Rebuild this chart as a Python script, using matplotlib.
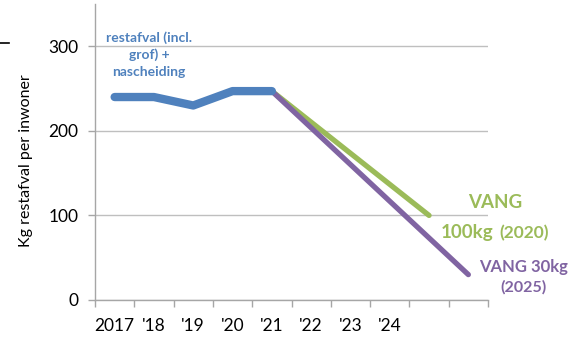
import numpy as np
import matplotlib.pyplot as plt
from matplotlib.lines import Line2D

plt.rcParams['font.family'] = ['Lato', 'DejaVu Sans']

# data
categories = ['2017', "'18", "'19", "'20", "'21", "'22", "'23", "'24", '', '']
actual_idx = [0, 1, 2, 3, 4]
actual = [240, 240, 230, 247, 247]          # restafval (incl. grof) + nascheiding
vang2020_idx = [4, 8]
vang2020 = [247, 100]                        # path to VANG 100kg
vang2025_idx = [4, 9]
vang2025 = [247, 30]                         # path to VANG 30kg

blue = '#4F81BD'
green = '#9BBB59'
purple = '#8064A2'
grid_c = '#BFBFBF'
axis_c = '#A6A6A6'

fig = plt.figure(figsize=(5.79, 3.39), dpi=100)
ax = fig.add_axes([95 / 579, 1 - 300 / 339, (488 - 95) / 579, 296 / 339])

ax.plot(vang2020_idx, vang2020, color=green, lw=3.8, solid_capstyle='round', zorder=3)
ax.plot(vang2025_idx, vang2025, color=purple, lw=3.8, solid_capstyle='round', zorder=4)
ax.plot(actual_idx, actual, color=blue, lw=6, solid_capstyle='round',
        solid_joinstyle='round', zorder=5)

ax.set_xlim(-0.5, len(categories) - 0.5)
ax.set_ylim(0, 350)
ax.set_yticks([0, 100, 200, 300])
ax.set_xticks(range(len(categories)))
ax.set_xticklabels(categories)
ax.set_xticks(np.arange(len(categories) + 1) - 0.5, minor=True)
ax.tick_params(axis='x', which='major', length=0, pad=13, labelsize=12.5, colors='black')
ax.tick_params(axis='x', which='minor', length=5, width=1, color=axis_c)
ax.tick_params(axis='y', length=5, width=1, color=axis_c, pad=7, labelsize=12.5)

ax.grid(axis='y', color=grid_c, lw=1)
ax.set_axisbelow(True)
for s in ['top', 'right']:
    ax.spines[s].set_visible(False)
for s in ['left', 'bottom']:
    ax.spines[s].set_color(axis_c)
    ax.spines[s].set_linewidth(1)

ax.set_ylabel('Kg restafval per inwoner', fontsize=11.5)
ax.yaxis.set_label_coords(-62 / 393, 0.47)

# annotations
ax.text(0.87, 318, 'restafval (incl.\ngrof) +\nnascheiding', color=blue, fontsize=10,
        fontweight='bold', ha='center', va='top', linespacing=1.45)
ax.text(9.68, 115, 'VANG', color=green, fontsize=13.5, fontweight='bold', ha='center',
        va='center', clip_on=False)
ax.text(9.63, 80, '100kg', color=green, fontsize=13.5, fontweight='bold', ha='right',
        va='center', clip_on=False)
ax.text(9.8, 79, '(2020)', color=green, fontsize=12.5, fontweight='bold', ha='left',
        va='center', clip_on=False)
ax.text(10.4, 39, 'VANG 30kg', color=purple, fontsize=12, fontweight='bold', ha='center',
        va='center', clip_on=False)
ax.text(10.4, 15, '(2025)', color=purple, fontsize=11.5, fontweight='bold', ha='center',
        va='center', clip_on=False)

# stray dash at top-left
fig.add_artist(Line2D([0, 9 / 579], [1 - 43 / 339] * 2, color='black', lw=1.2))

fig.savefig('out.png', dpi=100, facecolor='white')
